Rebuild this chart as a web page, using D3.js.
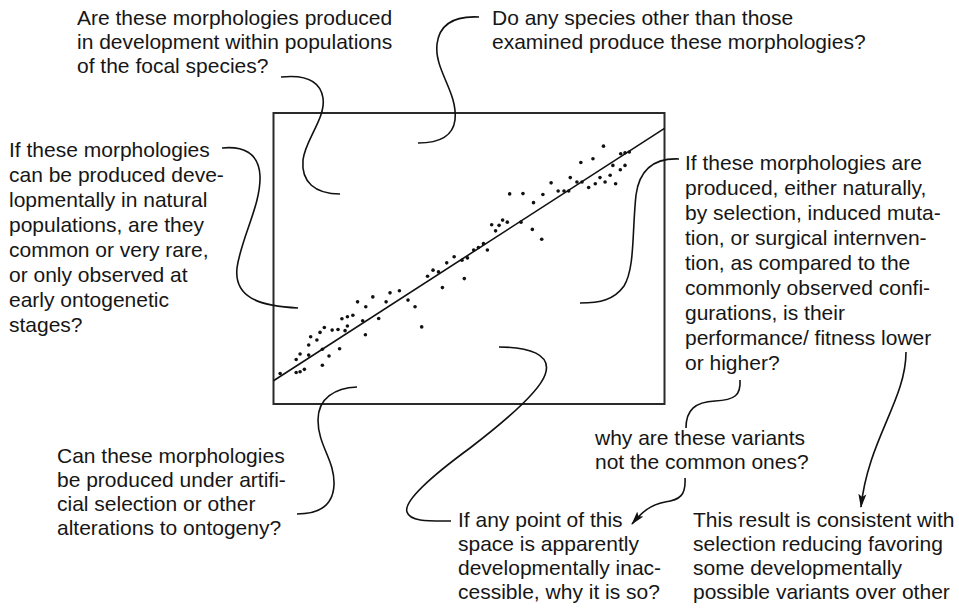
<!DOCTYPE html>
<html>
<head>
<meta charset="utf-8">
<script src="https://cdn.jsdelivr.net/npm/d3@7"></script>
<style>
  html, body { margin: 0; padding: 0; background: #fff; }
  svg text { font-family: "Liberation Sans", Arial, Helvetica, sans-serif; font-size: 21px; fill: #161616; }
</style>
</head>
<body>
<div id="chart"></div>
<script>
// scatter values (arbitrary trait units, 0-100 on both axes)
const traitX = [1.7, 5.8, 6.8, 5.8, 6.8, 7.9, 9.0, 9.0, 9.5, 11.1, 11.9, 13.0, 12.5, 12.5, 14.2, 15.0, 16.5, 16.9, 17.5, 18.3,
  18.9, 18.9, 20.3, 21.5, 22.8, 23.6, 23.5, 25.4, 26.9, 28.8, 29.8, 32.2, 34.4, 36.2, 37.9, 39.4, 40.8, 42.2, 43.2, 44.3,
  46.2, 48.2, 48.8, 49.6, 51.2, 52.4, 53.7, 54.7, 55.8, 56.8, 57.7, 58.6, 59.8, 60.4, 63.3, 63.8, 66.5, 66.2, 68.6, 68.9,
  71.0, 72.8, 74.3, 75.5, 75.9, 77.6, 78.6, 78.9, 80.6, 81.7, 82.3, 83.5, 84.4, 84.8, 86.1, 86.8, 87.5, 88.7, 88.8, 89.9,
  89.9, 91.0];
const traitY = [10.5, 15.3, 17.2, 10.8, 11.1, 11.9, 16.8, 20.3, 23.1, 22.0, 24.6, 26.3, 18.8, 13.3, 16.5, 25.4, 25.6, 19.0, 29.3, 25.2,
  26.8, 30.0, 30.5, 35.1, 28.6, 33.4, 23.8, 36.8, 29.4, 35.1, 38.2, 38.9, 35.7, 33.4, 26.5, 43.9, 46.0, 45.4, 40.0, 48.5,
  50.6, 49.4, 43.1, 50.2, 52.9, 53.8, 55.1, 52.9, 61.6, 59.5, 61.4, 63.2, 62.5, 72.2, 62.5, 72.3, 69.2, 60.0, 56.6, 72.0,
  76.0, 73.2, 73.2, 73.2, 77.8, 76.3, 83.0, 76.3, 74.4, 84.3, 75.7, 77.8, 88.6, 76.3, 78.6, 82.0, 75.7, 80.5, 86.0, 82.0,
  86.3, 86.6];
// fitted line: value at x = 0 and x = 100
const fitX = [0, 100];
const fitY = [8.0, 94.7];

// question texts
const qFocal = ["Are these morphologies produced", "in development within populations", "of the focal species?"];
const qOther = ["Do any species other than those", "examined produce these morphologies?"];
const qNatural = ["If these morphologies", "can be produced deve-", "lopmentally in natural", "populations, are they",
  "common or very rare,", "or only observed at", "early ontogenetic", "stages?"];
const qPerf = ["If these morphologies are", "produced, either naturally,", "by selection, induced muta-",
  "tion, or surgical internven-", "tion, as compared to the", "commonly observed confi-", "gurations, is their",
  "performance/ fitness lower", "or higher?"];
const qArtificial = ["Can these morphologies", "be produced under artifi-", "cial selection or other", "alterations to ontogeny?"];
const qWhy = ["why are these variants", "not the common ones?"];
const qInaccessible = ["If any point of this", "space is apparently", "developmentally inac-", "cessible, why it is so?"];
const qResult = ["This result is consistent with", "selection reducing favoring", "some developmentally",
  "possible variants over other"];

const width = 959, height = 608;
const box = { left: 273.5, right: 664.5, top: 113, bottom: 404 };

const svg = d3.select("#chart").append("svg")
  .attr("width", width)
  .attr("height", height);

const x = d3.scaleLinear().domain([0, 100]).range([box.left, box.right]);
const y = d3.scaleLinear().domain([0, 100]).range([box.bottom, box.top]);

svg.append("rect")
  .attr("x", box.left).attr("y", box.top)
  .attr("width", box.right - box.left).attr("height", box.bottom - box.top)
  .attr("fill", "none").attr("stroke", "#2a2a2a").attr("stroke-width", 2);

svg.append("line")
  .attr("x1", x(fitX[0])).attr("y1", y(fitY[0]))
  .attr("x2", x(fitX[1])).attr("y2", y(fitY[1]))
  .attr("stroke", "#111").attr("stroke-width", 1.6);

svg.append("g").selectAll("circle")
  .data(traitX.map((v, i) => [v, traitY[i]]))
  .enter()
  .append("circle")
  .attr("cx", d => x(d[0]))
  .attr("cy", d => y(d[1]))
  .attr("r", 1.8)
  .attr("fill", "#111");

// text blocks: left x, first baseline, line spacing
const blocks = [
  { lines: qFocal, x: 77, y: 25, lh: 24 },
  { lines: qOther, x: 492, y: 25, lh: 24 },
  { lines: qNatural, x: 9, y: 157, lh: 25 },
  { lines: qPerf, x: 685, y: 170, lh: 25 },
  { lines: qArtificial, x: 57, y: 463, lh: 24 },
  { lines: qWhy, x: 595, y: 445, lh: 24 },
  { lines: qInaccessible, x: 458, y: 527, lh: 24 },
  { lines: qResult, x: 693, y: 527, lh: 24 }
];

blocks.forEach(b => {
  svg.append("text")
    .attr("x", b.x).attr("y", b.y)
    .selectAll("tspan")
    .data(b.lines)
    .enter()
    .append("tspan")
    .attr("x", b.x)
    .attr("y", (d, i) => b.y + i * b.lh)
    .text(d => d);
});

// arrowhead
svg.append("defs").append("marker")
  .attr("id", "arrow")
  .attr("viewBox", "0 0 14 10")
  .attr("refX", 13).attr("refY", 5)
  .attr("markerWidth", 14).attr("markerHeight", 10)
  .attr("markerUnits", "userSpaceOnUse")
  .attr("orient", "auto")
  .append("path")
  .attr("d", "M0,1 L14,5 L0,9 L3,5 Z")
  .attr("fill", "#111");

// leader curves: start point then cubic segments [c1x, c1y, c2x, c2y, x, y]
const leaders = [
  { start: [281, 77], segs: [[300, 75, 320, 78, 323, 98], [326, 118, 305, 140, 303, 160], [301, 182, 315, 194, 340, 194]] },
  { start: [479, 17], segs: [[460, 16, 440, 20, 437, 44], [434, 70, 458, 92, 455, 120], [453, 136, 440, 143, 418, 143]] },
  { start: [222, 148], segs: [[242, 146, 259, 152, 260, 176], [261, 205, 241, 238, 237, 268], [234, 297, 258, 306, 298, 308]] },
  { start: [679, 159], segs: [[658, 158, 640, 166, 636, 195], [632, 232, 635, 268, 624, 286], [614, 300, 600, 303, 580, 303]] },
  { start: [357, 387], segs: [[335, 388, 318, 398, 318, 420], [318, 446, 335, 460, 334, 485], [333, 506, 318, 514, 297, 514]] },
  { start: [499, 347], segs: [[528, 347, 553, 354, 545, 375], [538, 394, 500, 425, 470, 448], [440, 470, 403, 500, 407, 512], [410, 522, 430, 521, 451, 521]] },
  { start: [740, 380], segs: [[741, 395, 735, 400, 715, 401], [695, 402, 686, 410, 686, 428]] },
  { start: [685, 478], segs: [[686, 495, 680, 500, 665, 502], [650, 505, 642, 512, 632, 524]], arrow: true },
  { start: [906, 352], segs: [[906, 400, 868, 440, 861, 507]], arrow: true }
];

leaders.forEach(l => {
  const p = d3.path();
  p.moveTo(l.start[0], l.start[1]);
  l.segs.forEach(s => p.bezierCurveTo(s[0], s[1], s[2], s[3], s[4], s[5]));
  svg.append("path")
    .attr("d", p.toString())
    .attr("fill", "none")
    .attr("stroke", "#111")
    .attr("stroke-width", 1.6)
    .attr("marker-end", l.arrow ? "url(#arrow)" : null);
});
</script>
</body>
</html>
